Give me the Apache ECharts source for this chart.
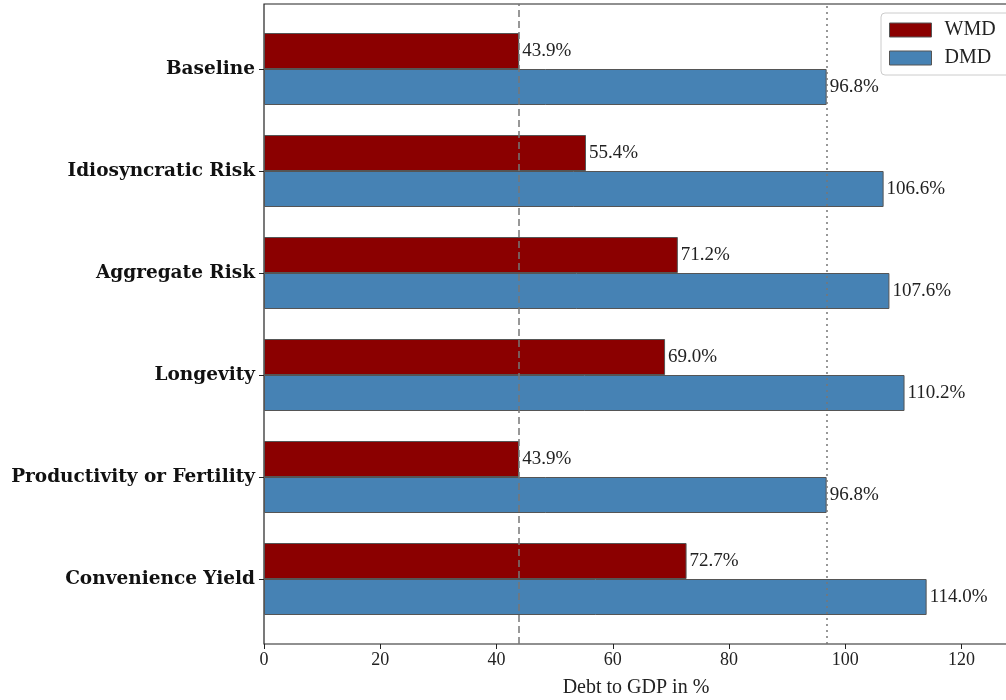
<!DOCTYPE html>
<html>
<head>
<meta charset="utf-8">
<script src="https://cdn.jsdelivr.net/npm/echarts@6/dist/echarts.min.js"></script>
<style>
  html, body { margin: 0; padding: 0; background: #fff; }
  #chart { width: 1006px; height: 700px; }
</style>
</head>
<body>
<div id="chart"></div>
<script>
// 场景名称
const scenarios = ['Baseline', 'Idiosyncratic Risk', 'Aggregate Risk', 'Longevity', 'Productivity or Fertility', 'Convenience Yield'];
// 两组数值 (Debt to GDP, %)
const wmdValues = [43.9, 55.4, 71.2, 69.0, 43.9, 72.7];
const dmdValues = [96.8, 106.6, 107.6, 110.2, 96.8, 114.0];
const xTicks = [0, 20, 40, 60, 80, 100, 120];
// 参考线: baseline 值
const refWmd = 43.9;
const refDmd = 96.8;

const serif = 'Liberation Serif';
const boldSerif = 'DejaVu Serif';

var myChart = echarts.init(document.getElementById('chart'));

function valueLabel() {
  return {
    show: true,
    position: 'right',
    distance: 3,
    color: '#222',
    fontFamily: serif,
    fontSize: 19,
    formatter: p => p.value.toFixed(1) + '%'
  };
}

let option = {
  animation: false,
  grid: [
    { left: 264, width: 744, top: 18, bottom: 70, outerBoundsMode: 'none' },          // 柱子所在区域
    { left: 264, width: 744, top: 4, bottom: 56, outerBoundsMode: 'none',             // 外框 + x 轴
      show: true, borderColor: '#222', borderWidth: 1.2, backgroundColor: 'transparent' }
  ],
  legend: {
    data: ['WMD', 'DMD'],
    orient: 'vertical',
    left: 881,
    top: 13,
    padding: [7, 30, 7, 8],
    icon: 'rect',
    itemWidth: 42,
    itemHeight: 14,
    itemGap: 8,
    backgroundColor: '#fff',
    borderColor: '#ccc',
    borderWidth: 1,
    borderRadius: 4,
    itemStyle: { borderColor: '#555', borderWidth: 1 },
    textStyle: { fontFamily: serif, fontSize: 20, color: '#222', padding: [0, 0, 0, 8] }
  },
  xAxis: [
    { gridIndex: 0, type: 'value', min: 0, max: 128, interval: 20,
      axisLine: { show: false }, axisTick: { show: false }, axisLabel: { show: false }, splitLine: { show: false } },
    { gridIndex: 1, type: 'value', min: 0, max: 128, interval: 20,
      name: 'Debt to GDP in %', nameLocation: 'middle', nameGap: 34,
      nameTextStyle: { fontFamily: serif, fontSize: 20, color: '#222' },
      axisLine: { show: false },
      axisTick: { show: true, length: 5, lineStyle: { color: '#222' } },
      axisLabel: { fontFamily: serif, fontSize: 18, color: '#222', margin: 7,
        formatter: v => xTicks.indexOf(v) >= 0 ? String(v) : '' },
      splitLine: { show: false } }
  ],
  yAxis: [
    { gridIndex: 0, type: 'category', data: scenarios, inverse: true,
      axisLine: { show: false },
      axisTick: { show: true, alignWithLabel: true, length: 5, lineStyle: { color: '#222' } },
      axisLabel: { fontFamily: boldSerif, fontWeight: 'bold', fontSize: 18.5, color: '#111', margin: 9 } },
    { gridIndex: 1, type: 'value', min: 0, max: 1, show: false }
  ],
  series: [
    { name: 'WMD', type: 'bar', xAxisIndex: 0, yAxisIndex: 0, data: wmdValues,
      barWidth: 36, barGap: '0%',
      itemStyle: { color: '#8b0000', borderColor: '#555', borderWidth: 1 },
      label: valueLabel() },
    { name: 'DMD', type: 'bar', xAxisIndex: 0, yAxisIndex: 0, data: dmdValues,
      barWidth: 36, barGap: '0%',
      itemStyle: { color: '#4682b4', borderColor: '#555', borderWidth: 1 },
      label: valueLabel() },
    { name: 'ref', type: 'line', xAxisIndex: 1, yAxisIndex: 1, data: [],
      markLine: {
        symbol: 'none', silent: true, label: { show: false },
        data: [
          { xAxis: refWmd, lineStyle: { color: '#777', type: [7, 4], width: 1.5 } },
          { xAxis: refDmd, lineStyle: { color: '#777', type: [2, 4], width: 1.5 } }
        ]
      } }
  ]
};
myChart.setOption(option);
</script>
</body>
</html>
